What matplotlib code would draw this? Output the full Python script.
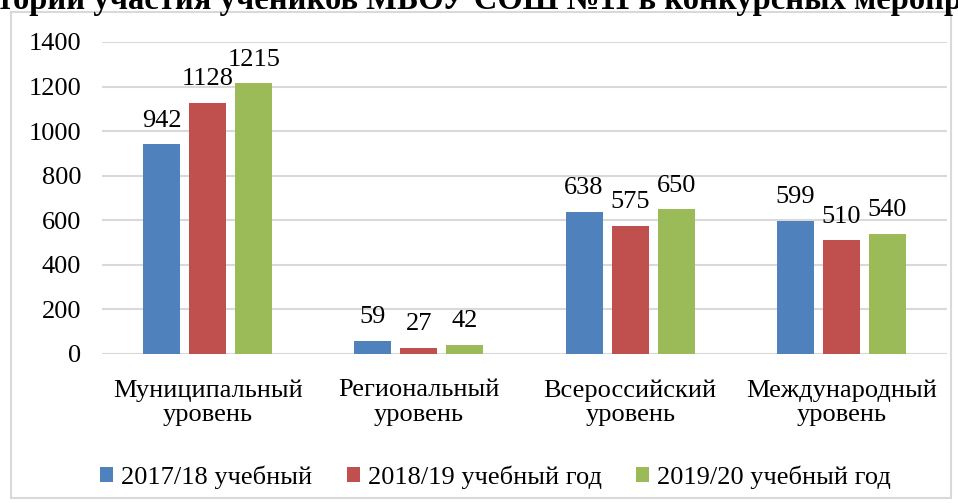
import matplotlib
matplotlib.use("Agg")
import matplotlib.pyplot as plt
from matplotlib.patches import Rectangle
import numpy as np

categories = ["Муниципальный\nуровень", "Региональный\nуровень", "Всероссийский\nуровень", "Международный\nуровень"]
series_names = ["2017/18 учебный", "2018/19 учебный год", "2019/20 учебный год"]
v2017 = [942, 59, 638, 599]
v2018 = [1128, 27, 575, 510]
v2019 = [1215, 42, 650, 540]
colors = ["#4F81BD", "#C0504D", "#9BBB59"]
yticks = [0, 200, 400, 600, 800, 1000, 1200, 1400]
title = "Траектории участия учеников МБОУ СОШ №11 в конкурсных мероприятиях"

plt.rcParams['font.family'] = ['Liberation Serif', 'DejaVu Serif']

fig = plt.figure(figsize=(9.58, 5.03), dpi=100)
fig.patch.set_facecolor("white")

# outer chart border
border = Rectangle((11/958, 5/503), 940/958, 486/503,
                   transform=fig.transFigure, facecolor="white", edgecolor="#D9D9D9",
                   linewidth=1.5, zorder=-5)
fig.patches.append(border)

ax = fig.add_axes([102/958, 1 - 354/503, 845/958, 312/503])
ax.set_zorder(2)
ax.patch.set_alpha(0)
x = np.arange(len(categories))
w = 0.175
step = 0.218
fs = 19
for i, (vals, name) in enumerate(zip([v2017, v2018, v2019], series_names)):
    bars = ax.bar(x + (i - 1) * step, vals, w, color=colors[i], label=name, zorder=3)
    for b, v in zip(bars, vals):
        ax.annotate(str(v), (b.get_x() + b.get_width() / 2, v), xytext=(0, 9),
                    textcoords="offset points", ha="center", va="bottom", fontsize=fs)

ax.set_xlim(-0.5, 3.5)
ax.set_ylim(0, 1400)
ax.set_yticks(yticks)
ax.set_xticks(x)
ax.set_xticklabels(categories, fontsize=fs, linespacing=1.17)
ax.tick_params(axis="y", length=0, pad=15, labelsize=fs)
ax.tick_params(axis="x", length=0, pad=18)
ax.grid(axis="y", color="#D9D9D9", linewidth=1.5, zorder=0)
for s in ax.spines.values():
    s.set_visible(False)

ax.legend(loc="center", bbox_to_anchor=(0.466, -0.395), ncol=3, frameon=False,
          fontsize=fs, handlelength=0.5, handleheight=0.5, handletextpad=0.3,
          columnspacing=1.3)

fig.text(0.51, 1 - 9/503, title, ha="center", va="baseline",
         fontsize=23.5, fontweight="bold", zorder=5)

fig.savefig("out.png", dpi=100)
